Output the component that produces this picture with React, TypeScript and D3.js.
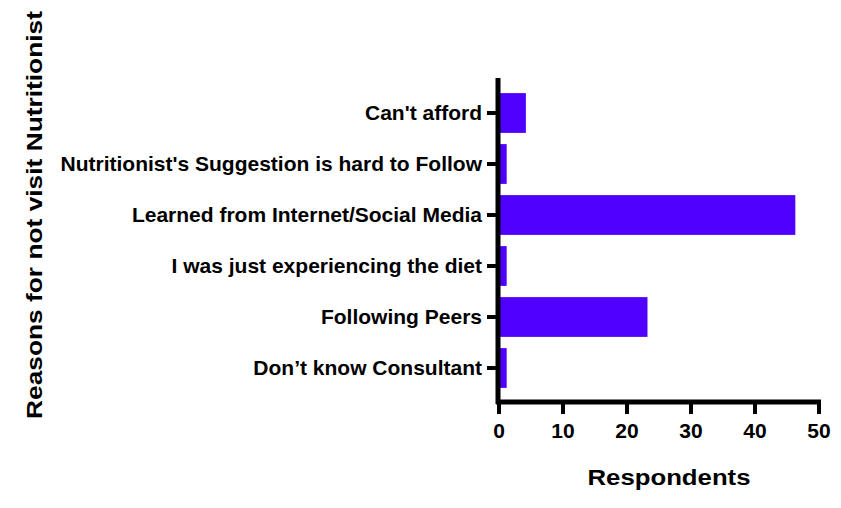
import React from "react";
import * as d3 from "d3";

const categories = [
  "Can't afford",
  "Nutritionist's Suggestion is hard to Follow",
  "Learned from Internet/Social Media",
  "I was just experiencing the diet",
  "Following Peers",
  "Don\u2019t know Consultant",
];
const values = [4.2, 1.2, 46.3, 1.2, 23.2, 1.2];
const xTicks = [0, 10, 20, 30, 40, 50];

const W = 841;
const H = 508;
const x0 = 499;
const x1 = 819;
const yTop = 78;
const yBottom = 402;
const FONT = "'Liberation Sans', Arial, sans-serif";
const BAR = "#5000FF";

export default function App() {
  const x = d3.scaleLinear().domain([0, 50]).range([x0, x1]);
  const y = d3.scaleBand<string>().domain(categories).range([87.5, 393.5]).paddingInner(0.22).paddingOuter(0.11);
  const bw = y.bandwidth();
  return (
    <svg width={W} height={H} style={{ position: "absolute", left: 0, top: 0, background: "#fff" }}>
      {categories.map((c, i) => (
        <rect key={c} x={x(0)} y={y(c)!} width={x(values[i]) - x(0)} height={bw} fill={BAR} />
      ))}
      {/* y axis */}
      <line x1={x0 - 1} x2={x0 - 1} y1={yTop} y2={yBottom + 2} stroke="#000" strokeWidth={5} />
      {categories.map((c) => {
        const cy = y(c)! + bw / 2;
        return (
          <g key={c}>
            <line x1={x0 - 12} x2={x0} y1={cy} y2={cy} stroke="#000" strokeWidth={4} />
            <text x={x0 - 17} y={cy + 7} textAnchor="end" fontFamily={FONT} fontWeight="bold" fontSize={21}>
              {c}
            </text>
          </g>
        );
      })}
      {/* x axis */}
      <line x1={x0 - 3} x2={x1 + 2} y1={yBottom} y2={yBottom} stroke="#000" strokeWidth={5} />
      {xTicks.map((t) => (
        <g key={t}>
          <line x1={x(t)} x2={x(t)} y1={yBottom} y2={yBottom + 12} stroke="#000" strokeWidth={4} />
          <text x={x(t)} y={438} textAnchor="middle" fontFamily={FONT} fontWeight="bold" fontSize={21}>
            {t}
          </text>
        </g>
      ))}
      <text x={669} y={485} textAnchor="middle" fontFamily={FONT} fontWeight="bold" fontSize={22} textLength={163} lengthAdjust="spacingAndGlyphs">
        Respondents
      </text>
      <text transform={`translate(42, 215) rotate(-90)`} textAnchor="middle" fontFamily={FONT} fontWeight="bold" fontSize={22} textLength={408} lengthAdjust="spacingAndGlyphs">
        Reasons for not visit Nutritionist
      </text>
    </svg>
  );
}
